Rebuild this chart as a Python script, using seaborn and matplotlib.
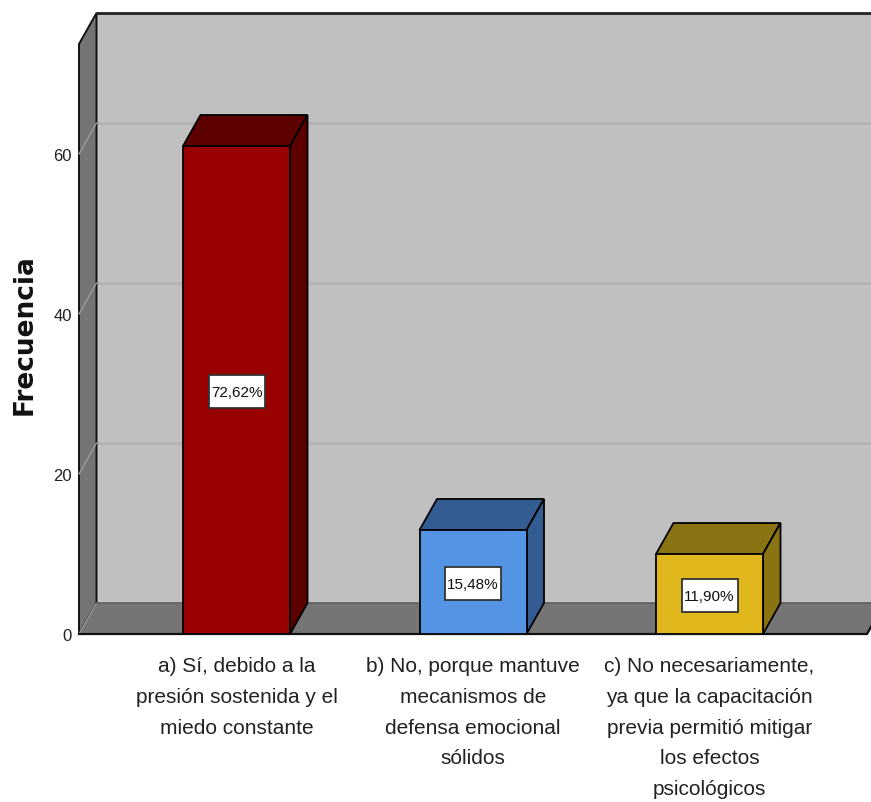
import matplotlib
matplotlib.use('Agg')
import matplotlib.pyplot as plt
from matplotlib.patches import Rectangle
import seaborn as sns
import pandas as pd

categorias = ['a) Sí, debido a la\npresión sostenida y el\nmiedo constante',
              'b) No, porque mantuve\nmecanismos de\ndefensa emocional\nsólidos',
              'c) No necesariamente,\nya que la capacitación\nprevia permitió mitigar\nlos efectos\npsicológicos']
frecuencia = [61, 13, 10]
porcentajes = ['72,62%', '15,48%', '11,90%']
colores = ['#990000', '#5394e4', '#e0b81d']
colores_sombra = ['#5c0000', '#335d92', '#8a7313']
ticks_y = [0, 20, 40, 60]

df = pd.DataFrame({'categoria': categorias, 'frecuencia': frecuencia})

W, H = 871, 803
fig = plt.figure(figsize=(W / 100, H / 100), dpi=100)
# eje frontal en pixeles de la imagen
ax = fig.add_axes([79 / W, 1 - 635 / H, (867 - 79) / W, (635 - 45) / H])

sns.barplot(data=df, x='categoria', y='frecuencia', hue='categoria', palette=colores,
            saturation=1, width=107 / 236.5, dodge=False, legend=False, ax=ax,
            edgecolor='black', linewidth=1.3, zorder=5)

x0 = -157.5 / 236.5
x1 = x0 + 788 / 236.5
y1 = 590 / 8
ax.set_xlim(x0, x1)
ax.set_ylim(0, y1)

# profundidad del efecto 3d
dx = 17.5 / 236.5
dy = 31 / 8
gris = '#757575'
fondo = '#c0c0c0'

ax.set_facecolor('none')
for s in ax.spines.values():
    s.set_visible(False)

# paredes
ax.fill([x0 + dx, x1 + dx, x1 + dx, x0 + dx], [dy, dy, y1 + dy, y1 + dy], color=fondo, zorder=1, clip_on=False, lw=0)
ax.fill([x0, x0 + dx, x0 + dx, x0], [0, dy, y1 + dy, y1], facecolor=gris, edgecolor='#111111', lw=1.4, zorder=2, clip_on=False)
ax.fill([x0, x1, x1 + dx, x0 + dx], [0, 0, dy, dy], facecolor=gris, edgecolor='none', zorder=2, clip_on=False)
ax.plot([x0, x1, x1 + dx], [0, 0, dy], color='#111111', lw=1.6, zorder=3, clip_on=False)
ax.plot([x0 + dx, x1 + dx], [y1 + dy, y1 + dy], color='#222222', lw=2, zorder=3, clip_on=False)
ax.plot([x0 + dx, x1 + dx], [dy, dy], color='#5f5f5f', lw=1.2, zorder=3, clip_on=False)

# rejilla
for t in ticks_y:
    if t > 0:
        ax.plot([x0 + dx, x1 + dx], [t + dy, t + dy], color='#b2b2b2', lw=1.8, zorder=1.5, clip_on=False)
    ax.plot([x0, x0 + dx], [t, t + dy], color='#9a9a9a', lw=1, zorder=2.5, clip_on=False)

# caras superior y lateral de cada barra, a partir de la barra dibujada
caja_w = 56 / 236.5
caja_h = 33 / 8
for i, p in enumerate(ax.patches[:len(frecuencia)]):
    a = p.get_x()
    b = a + p.get_width()
    h = p.get_height()
    ax.fill([a, b, b + dx, a + dx], [h, h, h + dy, h + dy], facecolor=colores_sombra[i], edgecolor='black', lw=1.3, zorder=4, clip_on=False)
    ax.fill([b, b + dx, b + dx, b], [0, dy, h + dy, h], facecolor=colores_sombra[i], edgecolor='black', lw=1.3, zorder=4, clip_on=False)
    cx = a + p.get_width() / 2
    cy = h / 2 - 0.2
    ax.add_patch(Rectangle((cx - caja_w / 2, cy - caja_h / 2), caja_w, caja_h, facecolor='white',
                           edgecolor='#333333', lw=1.3, zorder=6))
    ax.text(cx, cy, porcentajes[i], ha='center', va='center', fontsize=11,
            family='Liberation Sans', color='#111111', zorder=7)

ax.set_yticks(ticks_y)
ax.set_yticklabels([str(t) for t in ticks_y], family='Liberation Sans', fontsize=12, color='#222222')
ax.set_xticks(range(len(categorias)))
ax.set_xticklabels(categorias, family='Liberation Sans', fontsize=15, color='#222222', linespacing=1.78)
ax.tick_params(axis='both', length=0)
ax.tick_params(axis='x', pad=16)
ax.tick_params(axis='y', pad=5)
ax.set_xlabel('')
ax.set_ylabel('')
fig.text(25 / W, 1 - 335 / H, 'Frecuencia', rotation=90, ha='center', va='center',
         family='DejaVu Sans', fontweight='bold', fontsize=19, color='#111111')

fig.savefig('out.png', dpi=100)
